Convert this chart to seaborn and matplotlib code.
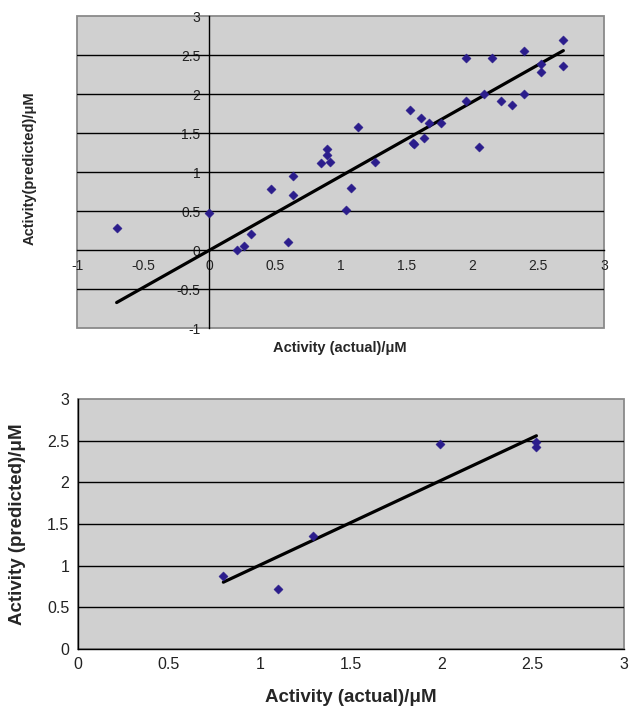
import matplotlib
matplotlib.use("Agg")
import matplotlib.pyplot as plt
import seaborn as sns
from matplotlib.patches import Rectangle

# training set (top panel)
train_actual = [-0.70, 0.00, 0.21, 0.27, 0.32, 0.47, 0.60, 0.64, 0.64, 0.85, 0.90, 0.90,
                0.92, 1.04, 1.08, 1.13, 1.26, 1.53, 1.55, 1.56, 1.61, 1.63, 1.67, 1.76,
                1.95, 1.95, 2.05, 2.09, 2.15, 2.22, 2.30, 2.39, 2.39, 2.52, 2.52, 2.69, 2.69]
train_pred = [0.29, 0.48, 0.00, 0.05, 0.21, 0.79, 0.10, 0.95, 0.71, 1.12, 1.30, 1.22,
              1.13, 0.52, 0.80, 1.58, 1.13, 1.80, 1.37, 1.36, 1.69, 1.44, 1.63, 1.63,
              2.47, 1.92, 1.32, 2.01, 2.46, 1.92, 1.86, 2.56, 2.00, 2.39, 2.29, 2.69, 2.36]
train_fit_x = [-0.70, 2.69]
train_fit_y = [-0.67, 2.56]

# test set (bottom panel)
test_actual = [0.80, 1.10, 1.29, 1.99, 2.52, 2.52]
test_pred = [0.88, 0.72, 1.36, 2.46, 2.48, 2.42]
test_fit_x = [0.80, 2.52]
test_fit_y = [0.80, 2.56]

top_xticks = [-1, -0.5, 0, 0.5, 1, 1.5, 2, 2.5, 3]
top_yticks = [-1, -0.5, 0, 0.5, 1, 1.5, 2, 2.5, 3]
bot_xticks = [0, 0.5, 1, 1.5, 2, 2.5, 3]
bot_yticks = [0, 0.5, 1, 1.5, 2, 2.5, 3]

sns.set_style("white")
plt.rcParams["font.family"] = ["Liberation Sans", "DejaVu Sans"]

bg = "#d0d0d0"
frame = "#8a8a8a"
marker_col = "#2b1d8c"


def fmt(v):
    return "%g" % v


fig = plt.figure(figsize=(6.32, 7.09), dpi=100)
ax1 = fig.add_axes([0.122, 0.537, 0.834, 0.44])
ax2 = fig.add_axes([0.123, 0.085, 0.864, 0.352])

for ax, xs, ys, fx, fy, xt, yt, fs in [
    (ax1, train_actual, train_pred, train_fit_x, train_fit_y, top_xticks, top_yticks, 10),
    (ax2, test_actual, test_pred, test_fit_x, test_fit_y, bot_xticks, bot_yticks, 11.5),
]:
    ax.set_facecolor(bg)
    for y in yt[1:-1]:
        if y != 0:
            ax.axhline(y, color="black", lw=1.0, zorder=1)
    sns.lineplot(x=fx, y=fy, ax=ax, color="black", lw=2.3, zorder=3)
    sns.scatterplot(x=xs, y=ys, ax=ax, marker="D", s=22, color=marker_col,
                    edgecolor=marker_col, linewidth=0.3, zorder=4)
    ax.set_xlim(xt[0], xt[-1])
    ax.set_ylim(yt[0], yt[-1])
    ax.set_xticks(xt)
    ax.set_yticks(yt)
    ax.set_xticklabels([fmt(v) for v in xt])
    ax.set_yticklabels([fmt(v) for v in yt])
    ax.tick_params(direction="out", length=4, width=1, color="black",
                   labelsize=fs, labelcolor="#222222", pad=2)
    for s in ["top", "right"]:
        ax.spines[s].set_visible(False)
    for s in ["left", "bottom"]:
        ax.spines[s].set_color("black")
        ax.spines[s].set_linewidth(1.0)
        ax.spines[s].set_zorder(2)
    ax.add_patch(Rectangle((0, 0), 1, 1, transform=ax.transAxes, fill=False,
                           edgecolor=frame, lw=1.3, zorder=0.5, clip_on=False))

# axes cross at zero in the top panel
ax1.spines["left"].set_position(("data", 0))
ax1.spines["bottom"].set_position(("data", 0))

fig.text(340 / 632, 1 - 348 / 709, "Activity (actual)/μM", ha="center", va="center",
         fontsize=10.5, fontweight="bold")
fig.text(30 / 632, 1 - 168 / 709, "Activity(predicted)/μM", ha="center", va="center",
         rotation=90, fontsize=10.5, fontweight="bold")
fig.text(351 / 632, 1 - 697 / 709, "Activity (actual)/μM", ha="center", va="center",
         fontsize=13.5, fontweight="bold")
fig.text(18 / 632, 1 - 524 / 709, "Activity (predicted)/μM", ha="center", va="center",
         rotation=90, fontsize=13.5, fontweight="bold")

fig.savefig("out.png", dpi=100)
